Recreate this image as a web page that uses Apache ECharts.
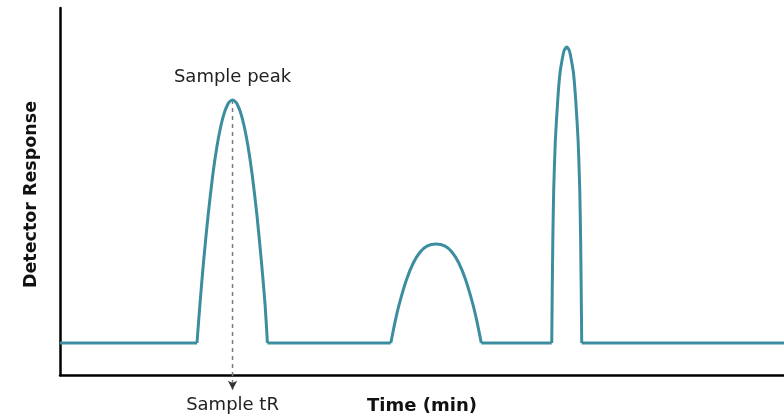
<!DOCTYPE html>
<html>
<head>
<meta charset="utf-8">
<style>html,body{margin:0;padding:0;background:#fff}#c{width:784px;height:418px}</style>
<script src="https://cdn.jsdelivr.net/npm/echarts@6/dist/echarts.min.js"></script>
</head>
<body>
<div id="c"></div>
<script>
// Time (arbitrary units, 0-100) and detector response (0-100)
const baselineLevel = 8.72;
const timeStart = 0;
const timeEnd = 100;
const peak1 = [
  [18.92, 8.72], [19.32, 19.07], [19.85, 31.34], [20.46, 43.60], [21.10, 54.50],
  [21.71, 62.67], [22.25, 68.12], [22.73, 71.66], [23.19, 73.84], [23.44, 74.52],
  [23.83, 74.93],
  [24.21, 74.52], [24.46, 73.84], [24.92, 71.66], [25.40, 68.12], [25.94, 62.67],
  [26.55, 54.50], [27.20, 43.60], [27.80, 31.34], [28.33, 19.07], [28.65, 8.72]
];
const peak2 = [
  [45.69, 8.72], [46.31, 14.75], [46.94, 19.90], [47.88, 26.09], [48.81, 30.59],
  [49.75, 33.52], [50.69, 35.12], [51.94, 35.69],
  [53.19, 35.12], [54.13, 33.52], [55.07, 30.59], [56.00, 26.09], [56.94, 19.90],
  [57.57, 14.75], [58.19, 8.72]
];
const peak3 = [
  [67.92, 8.72], [67.99, 23.16], [68.07, 36.78], [68.19, 50.41], [68.42, 64.03],
  [68.75, 74.93], [69.06, 82.29], [69.48, 87.19], [69.67, 88.56], [69.99, 89.37],
  [70.31, 88.56], [70.50, 87.19], [70.92, 82.29], [71.23, 74.93], [71.56, 64.03],
  [71.79, 50.41], [71.91, 36.78], [71.99, 23.16], [72.06, 8.72]
];
const peaks = [peak1, peak2, peak3];
const sampleTR = 23.83;
const samplePeakTop = 74.93;
const arrowEnd = -4.0;

const font = 'DejaVu Sans, Verdana, sans-serif';
const lineColor = '#3c8d9f';

// baseline segments between the peaks
const baselines = [];
let prev = timeStart;
peaks.forEach(p => {
  baselines.push([[prev, baselineLevel], [p[0][0], baselineLevel]]);
  prev = p[p.length - 1][0];
});
baselines.push([[prev, baselineLevel], [timeEnd, baselineLevel]]);

const series = [];
baselines.forEach(seg => series.push({
  type: 'line', data: seg, showSymbol: false, silent: true,
  lineStyle: { color: lineColor, width: 3 }
}));
peaks.forEach(p => series.push({
  type: 'line', data: p, showSymbol: false, smooth: 0.2, silent: true,
  lineStyle: { color: lineColor, width: 3 }
}));
series.push({
  type: 'line', clip: false, silent: true, z: 1,
  lineStyle: { color: '#7a7a7a', type: [4, 4], width: 1.5 },
  itemStyle: { color: '#333' },
  showSymbol: true,
  data: [
    { value: [sampleTR, samplePeakTop], symbol: 'circle', symbolSize: 1,
      itemStyle: { opacity: 0 },
      label: { show: true, position: 'top', distance: 13, formatter: 'Sample peak',
               fontFamily: font, fontSize: 18, color: '#222', opacity: 1 } },
    { value: [sampleTR, arrowEnd], symbol: 'arrow', symbolRotate: 180, symbolSize: [7, 9],
      label: { show: true, position: 'bottom', distance: 7, formatter: 'Sample tR',
               fontFamily: font, fontSize: 18, color: '#222' } }
  ]
});

const chart = echarts.init(document.getElementById('c'));
chart.setOption({
  animation: false,
  grid: { left: 60, right: 0, top: 8, bottom: 43, outerBoundsMode: 'none', containLabel: false },
  xAxis: {
    type: 'value', min: 0, max: 100,
    name: 'Time (min)', nameLocation: 'middle', nameGap: 22,
    nameTextStyle: { fontFamily: font, fontWeight: 'bold', fontSize: 18, color: '#111' },
    axisLine: { show: true, onZero: false, lineStyle: { color: '#000', width: 2.5 } },
    axisTick: { show: false }, axisLabel: { show: false }, splitLine: { show: false }
  },
  yAxis: {
    type: 'value', min: 0, max: 100,
    name: 'Detector Response', nameLocation: 'middle', nameGap: 20,
    nameTextStyle: { fontFamily: font, fontWeight: 'bold', fontSize: 17.5, color: '#111',
                     padding: [0, 6, 0, 0] },
    axisLine: { show: true, lineStyle: { color: '#000', width: 2.5 } },
    axisTick: { show: false }, axisLabel: { show: false }, splitLine: { show: false }
  },
  series: series
});
</script>
</body>
</html>
